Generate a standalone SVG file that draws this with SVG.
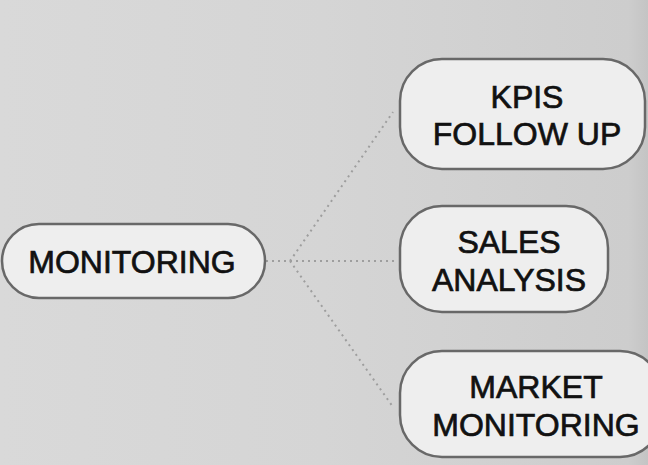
<svg xmlns="http://www.w3.org/2000/svg" width="648" height="465" viewBox="0 0 648 465">
<defs>
<linearGradient id="bg" x1="0" y1="0" x2="1" y2="0">
<stop offset="0" stop-color="#d9d9d9"/>
<stop offset="0.5" stop-color="#d5d5d5"/>
<stop offset="0.97" stop-color="#cdcdcd"/>
<stop offset="1" stop-color="#c4c4c4"/>
</linearGradient>
<style>
.node rect{fill:#eeeeee;stroke:#686868;stroke-width:2.5}
.node text{font-family:"Liberation Sans",Arial,sans-serif;font-size:32px;fill:#111111;stroke:#111111;stroke-width:0.7;text-anchor:middle}
.conn path{fill:none;stroke:#9e9e9e;stroke-width:2;stroke-dasharray:2 4}
</style>
</defs>
<rect width="648" height="465" fill="url(#bg)"/>
<g id="connectors" class="conn">
<path d="M266,261 L290,261 L393,112"/>
<path d="M290,261 L396,261"/>
<path d="M290,261 L393,407"/>
</g>
<g id="monitoring" class="node">
<rect x="2" y="224" width="263" height="74" rx="37"/>
<text x="132" y="273" font-size="33">MONITORING</text>
</g>
<g id="kpis" class="node">
<rect x="400" y="59" width="245" height="110" rx="42"/>
<text x="527" y="108">KPIS</text>
<text x="527" y="145">FOLLOW UP</text>
</g>
<g id="sales" class="node">
<rect x="400" y="206" width="208" height="106" rx="42"/>
<text x="509" y="253">SALES</text>
<text x="509" y="291">ANALYSIS</text>
</g>
<g id="market" class="node">
<rect x="400" y="351" width="262" height="106" rx="42"/>
<text x="536" y="398">MARKET</text>
<text x="536" y="436">MONITORING</text>
</g>
</svg>
